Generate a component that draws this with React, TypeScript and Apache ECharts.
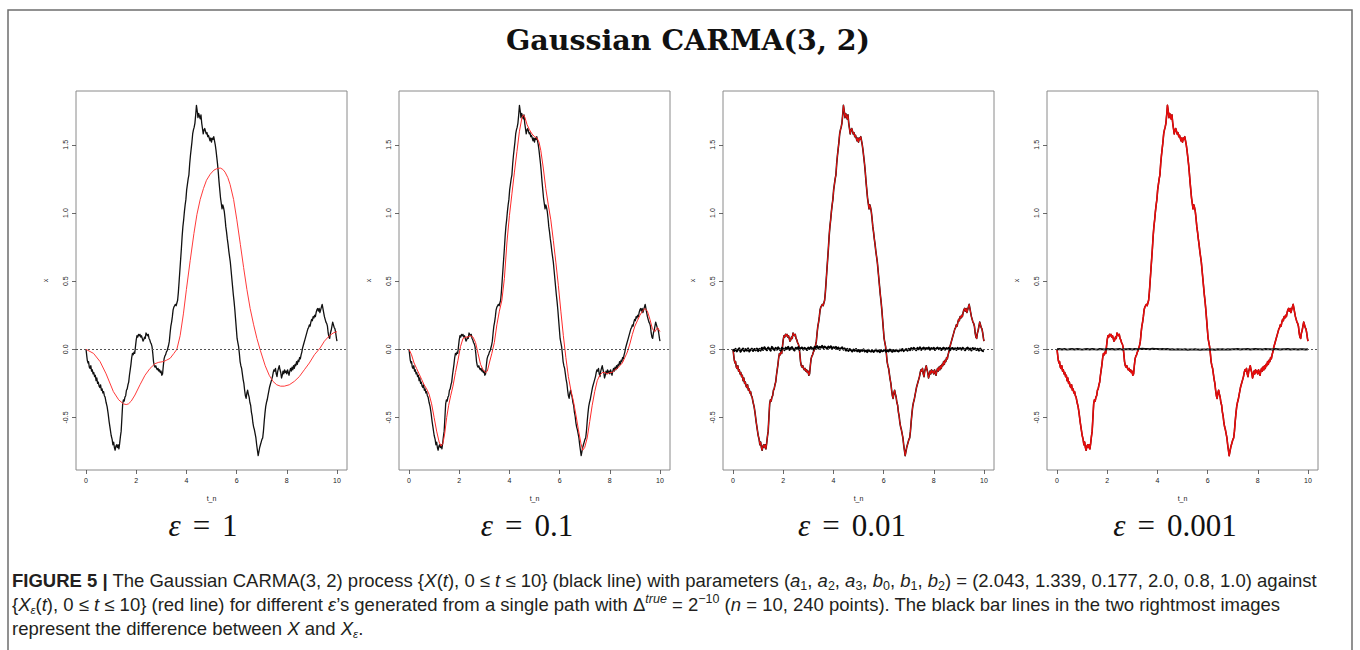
import React, { useEffect, useRef } from "react";
import * as echarts from "echarts";

// ---------- DATA ----------
// X(t): the Gaussian CARMA(3,2) path, [t, x]
const pathX: [number, number][] = [
  [0, 0], [0.03, -0.05], [0.05, -0.08], [0.08, -0.1], [0.1, -0.09], [0.13, -0.13], [0.16, -0.14], [0.19, -0.12],
  [0.22, -0.16], [0.25, -0.15], [0.28, -0.18], [0.31, -0.17], [0.34, -0.2], [0.37, -0.19], [0.4, -0.23], [0.43, -0.21],
  [0.46, -0.25], [0.49, -0.24], [0.52, -0.27], [0.55, -0.28], [0.58, -0.26], [0.61, -0.3], [0.64, -0.29], [0.67, -0.32],
  [0.7, -0.31], [0.73, -0.34], [0.76, -0.35], [0.8, -0.39], [0.84, -0.42], [0.88, -0.47], [0.92, -0.53], [0.96, -0.58],
  [1.0, -0.63], [1.04, -0.66], [1.07, -0.7], [1.1, -0.68], [1.13, -0.72], [1.16, -0.74], [1.19, -0.71], [1.22, -0.7],
  [1.25, -0.72], [1.28, -0.7], [1.31, -0.73], [1.34, -0.69], [1.37, -0.64], [1.4, -0.6], [1.43, -0.5], [1.46, -0.4],
  [1.49, -0.37], [1.52, -0.38], [1.55, -0.35], [1.58, -0.34], [1.61, -0.3], [1.64, -0.29], [1.67, -0.26], [1.7, -0.24],
  [1.73, -0.19], [1.76, -0.15], [1.79, -0.11], [1.82, -0.06], [1.85, -0.03], [1.88, -0.04], [1.91, -0.02], [1.94, -0.03],
  [1.97, 0.02], [2.0, 0.07], [2.03, 0.1], [2.06, 0.09], [2.09, 0.11], [2.12, 0.1], [2.15, 0.11], [2.18, 0.09],
  [2.21, 0.1], [2.24, 0.08], [2.27, 0.06], [2.3, 0.07], [2.33, 0.09], [2.36, 0.08], [2.39, 0.12], [2.42, 0.11],
  [2.45, 0.1], [2.48, 0.11], [2.51, 0.08], [2.54, 0.07], [2.57, 0.05], [2.6, 0.04], [2.63, 0.02], [2.66, -0.03],
  [2.69, -0.09], [2.72, -0.12], [2.75, -0.13], [2.78, -0.12], [2.81, -0.14], [2.84, -0.15], [2.87, -0.14], [2.9, -0.16],
  [2.93, -0.15], [2.96, -0.17], [2.99, -0.16], [3.02, -0.19], [3.05, -0.18], [3.08, -0.12], [3.11, -0.07], [3.14, -0.05],
  [3.17, -0.04], [3.2, -0.02], [3.23, -0.01], [3.26, 0.01], [3.29, 0.03], [3.32, 0.06], [3.35, 0.12], [3.38, 0.17],
  [3.41, 0.2], [3.44, 0.24], [3.47, 0.29], [3.5, 0.31], [3.53, 0.32], [3.56, 0.33], [3.59, 0.32], [3.62, 0.34],
  [3.65, 0.36], [3.68, 0.42], [3.71, 0.5], [3.74, 0.58], [3.77, 0.66], [3.8, 0.74], [3.83, 0.83], [3.86, 0.9],
  [3.89, 0.95], [3.92, 1.01], [3.95, 1.06], [3.98, 1.1], [4.01, 1.17], [4.04, 1.21], [4.07, 1.25], [4.1, 1.28],
  [4.13, 1.36], [4.16, 1.42], [4.19, 1.47], [4.22, 1.52], [4.25, 1.58], [4.28, 1.61], [4.31, 1.63], [4.34, 1.66],
  [4.37, 1.72], [4.4, 1.79], [4.43, 1.75], [4.46, 1.7], [4.49, 1.73], [4.52, 1.71], [4.55, 1.69], [4.58, 1.72],
  [4.61, 1.66], [4.64, 1.62], [4.67, 1.58], [4.7, 1.61], [4.73, 1.62], [4.76, 1.6], [4.79, 1.58], [4.82, 1.59],
  [4.85, 1.56], [4.88, 1.57], [4.91, 1.55], [4.94, 1.53], [4.97, 1.55], [5.0, 1.52], [5.03, 1.55], [5.06, 1.54],
  [5.09, 1.56], [5.12, 1.53], [5.15, 1.5], [5.18, 1.46], [5.21, 1.41], [5.24, 1.36], [5.27, 1.3], [5.3, 1.23],
  [5.33, 1.17], [5.36, 1.11], [5.39, 1.07], [5.42, 1.03], [5.45, 1.06], [5.48, 1.04], [5.51, 1.01], [5.54, 0.96],
  [5.57, 0.9], [5.6, 0.86], [5.63, 0.81], [5.66, 0.77], [5.69, 0.72], [5.72, 0.68], [5.75, 0.64], [5.78, 0.58],
  [5.81, 0.52], [5.84, 0.46], [5.87, 0.4], [5.9, 0.35], [5.93, 0.29], [5.96, 0.22], [5.99, 0.15], [6.02, 0.08],
  [6.05, 0.05], [6.08, 0.02], [6.11, -0.03], [6.14, -0.09], [6.17, -0.12], [6.2, -0.14], [6.23, -0.18], [6.26, -0.22],
  [6.29, -0.25], [6.32, -0.3], [6.35, -0.34], [6.38, -0.36], [6.41, -0.32], [6.44, -0.3], [6.47, -0.33], [6.5, -0.35],
  [6.53, -0.39], [6.56, -0.41], [6.59, -0.46], [6.62, -0.49], [6.65, -0.54], [6.68, -0.57], [6.71, -0.59], [6.74, -0.62],
  [6.77, -0.65], [6.8, -0.7], [6.83, -0.74], [6.86, -0.78], [6.89, -0.75], [6.92, -0.72], [6.95, -0.7], [6.98, -0.68],
  [7.01, -0.66], [7.04, -0.65], [7.07, -0.6], [7.1, -0.53], [7.13, -0.47], [7.16, -0.42], [7.19, -0.39], [7.22, -0.37],
  [7.25, -0.34], [7.28, -0.31], [7.31, -0.28], [7.34, -0.26], [7.37, -0.24], [7.4, -0.22], [7.43, -0.2], [7.46, -0.17],
  [7.49, -0.15], [7.52, -0.16], [7.55, -0.14], [7.58, -0.18], [7.61, -0.2], [7.64, -0.16], [7.67, -0.14], [7.7, -0.12],
  [7.73, -0.15], [7.76, -0.17], [7.79, -0.21], [7.82, -0.19], [7.85, -0.16], [7.88, -0.18], [7.91, -0.15], [7.94, -0.17],
  [7.97, -0.16], [8.0, -0.18], [8.03, -0.15], [8.06, -0.17], [8.09, -0.19], [8.12, -0.16], [8.15, -0.14], [8.18, -0.16],
  [8.21, -0.13], [8.24, -0.15], [8.27, -0.12], [8.3, -0.14], [8.33, -0.11], [8.36, -0.12], [8.39, -0.09], [8.42, -0.11],
  [8.45, -0.08], [8.48, -0.09], [8.51, -0.06], [8.54, -0.07], [8.57, -0.04], [8.6, -0.02], [8.63, 0.01], [8.66, 0.03],
  [8.69, 0.05], [8.72, 0.07], [8.75, 0.09], [8.78, 0.11], [8.81, 0.13], [8.84, 0.15], [8.87, 0.16], [8.9, 0.18],
  [8.93, 0.17], [8.96, 0.2], [8.99, 0.22], [9.02, 0.21], [9.05, 0.24], [9.08, 0.23], [9.11, 0.25], [9.14, 0.24],
  [9.17, 0.27], [9.2, 0.29], [9.23, 0.3], [9.26, 0.28], [9.29, 0.3], [9.32, 0.27], [9.35, 0.29], [9.38, 0.31],
  [9.41, 0.33], [9.44, 0.3], [9.47, 0.27], [9.5, 0.24], [9.53, 0.22], [9.56, 0.2], [9.59, 0.19], [9.62, 0.17],
  [9.65, 0.12], [9.68, 0.09], [9.71, 0.08], [9.74, 0.12], [9.77, 0.14], [9.8, 0.17], [9.83, 0.2], [9.86, 0.18],
  [9.89, 0.16], [9.92, 0.15], [9.95, 0.12], [9.98, 0.08], [10.0, 0.06],
];

// X_eps(t) for eps = 1 (smooth red curve), [t, x]
const epsOne: [number, number][] = [
  [0, 0], [0.3, -0.03], [0.56, -0.09], [0.8, -0.18], [1.09, -0.31], [1.3, -0.37], [1.49, -0.4], [1.6, -0.405],
  [1.69, -0.4], [1.8, -0.38], [1.95, -0.335], [2.15, -0.26], [2.35, -0.19], [2.55, -0.14], [2.75, -0.105], [2.9, -0.095],
  [3.08, -0.09], [3.2, -0.08], [3.35, -0.066], [3.5, -0.03], [3.62, 0.0], [3.75, 0.1], [3.88, 0.26], [4.0, 0.44],
  [4.15, 0.65], [4.3, 0.85], [4.42, 0.99], [4.55, 1.1], [4.68, 1.18], [4.8, 1.24], [4.95, 1.285], [5.1, 1.315],
  [5.21, 1.325], [5.35, 1.33], [5.45, 1.32], [5.54, 1.3], [5.65, 1.26], [5.74, 1.21], [5.88, 1.1], [6.01, 0.95],
  [6.15, 0.77], [6.28, 0.6], [6.41, 0.44], [6.54, 0.3], [6.68, 0.18], [6.81, 0.08], [6.95, -0.01], [7.14, -0.12],
  [7.3, -0.19], [7.45, -0.235], [7.6, -0.26], [7.75, -0.27], [7.9, -0.27], [8.1, -0.26], [8.3, -0.235], [8.5, -0.2],
  [8.7, -0.15], [8.9, -0.1], [9.1, -0.04], [9.33, 0.01], [9.5, 0.06], [9.7, 0.1], [9.85, 0.12], [10.0, 0.13],
];

// X_eps(t) for eps = 0.1 (red curve, slightly smoothed), [t, x]
const epsTenth: [number, number][] = [
  [0, 0], [0.1, -0.04], [0.2, -0.1], [0.3, -0.14], [0.4, -0.18], [0.5, -0.22], [0.6, -0.26], [0.7, -0.29],
  [0.8, -0.33], [0.9, -0.4], [1.0, -0.5], [1.1, -0.6], [1.2, -0.68], [1.28, -0.71], [1.35, -0.69], [1.42, -0.62],
  [1.5, -0.5], [1.58, -0.41], [1.66, -0.34], [1.75, -0.27], [1.85, -0.17], [1.95, -0.08], [2.05, 0.02], [2.15, 0.08],
  [2.25, 0.09], [2.35, 0.09], [2.45, 0.1], [2.55, 0.09], [2.65, 0.05], [2.75, -0.03], [2.85, -0.11], [2.95, -0.15],
  [3.05, -0.17], [3.12, -0.16], [3.2, -0.1], [3.3, -0.03], [3.4, 0.05], [3.5, 0.18], [3.6, 0.28], [3.7, 0.36],
  [3.8, 0.52], [3.9, 0.78], [4.0, 0.98], [4.1, 1.14], [4.2, 1.3], [4.3, 1.45], [4.4, 1.6], [4.5, 1.7],
  [4.56, 1.72], [4.62, 1.7], [4.7, 1.65], [4.8, 1.61], [4.9, 1.58], [5.0, 1.56], [5.1, 1.55], [5.18, 1.52],
  [5.25, 1.46], [5.35, 1.33], [5.45, 1.18], [5.55, 1.06], [5.65, 0.95], [5.75, 0.8], [5.85, 0.64], [5.95, 0.47],
  [6.05, 0.28], [6.15, 0.1], [6.25, -0.06], [6.35, -0.2], [6.45, -0.3], [6.55, -0.38], [6.65, -0.48], [6.75, -0.59],
  [6.85, -0.69], [6.92, -0.74], [7.0, -0.72], [7.1, -0.65], [7.2, -0.53], [7.3, -0.41], [7.4, -0.31], [7.5, -0.23],
  [7.6, -0.19], [7.7, -0.17], [7.8, -0.17], [7.9, -0.18], [8.0, -0.17], [8.1, -0.17], [8.2, -0.15], [8.3, -0.14],
  [8.4, -0.12], [8.5, -0.1], [8.6, -0.06], [8.7, -0.02], [8.8, 0.04], [8.9, 0.11], [9.0, 0.17], [9.1, 0.21],
  [9.2, 0.25], [9.3, 0.28], [9.4, 0.3], [9.5, 0.28], [9.6, 0.22], [9.7, 0.15], [9.8, 0.13], [9.9, 0.16],
  [10.0, 0.13],
];

// X - X_eps for eps = 0.01, sampled every 0.05 from t = 0
const diffStep001 = 0.05;
const diff001: number[] = [
  0, -0.012, 0.004, -0.015, -0.002, 0.008, -0.018, -0.004, 0.006, -0.014, 0.002, -0.01, 0.007, -0.016, -0.003, 0.005,
  -0.012, 0.003, -0.008, 0.006, -0.013,
  0.004, -0.009, 0.012, -0.004, 0.016, 0.002, -0.007, 0.014, 0.003, -0.01, 0.018, 0.005, -0.006, 0.011, -0.002, 0.015,
  0.001, -0.009, 0.012, 0.004,
  -0.006, 0.013, 0.002, 0.019, -0.004, 0.01, 0.016, 0.001, -0.008, 0.012, 0.004, 0.017, -0.003, 0.009, 0.014, -0.002,
  0.011, 0.006, -0.005, 0.013,
  0.003, 0.016, 0.008, -0.002, 0.018, 0.011, 0.024, 0.006, 0.019, 0.012, 0.026, 0.009, 0.021, 0.014, 0.004, 0.02,
  0.011, 0.023, 0.007, 0.016,
  0.01, 0.018, 0.003, 0.014, -0.004, 0.008, 0.015, -0.002, 0.007, -0.009, 0.004, -0.012, 0.002, -0.006, -0.016, -0.001,
  -0.011, 0.003, -0.014, -0.005,
  -0.018, -0.006, -0.012, 0.001, -0.015, -0.008, -0.02, -0.004, -0.013, -0.017, -0.007, -0.019, -0.01, -0.002, -0.016, -0.009,
  -0.021, -0.006, -0.014, -0.011,
  -0.003, -0.017, -0.008, -0.015, -0.001, -0.012, -0.018, -0.006, -0.014, -0.004, -0.011, -0.016, -0.002, -0.009, 0.003, -0.013,
  -0.005, 0.002, -0.01, 0.004,
  -0.006, 0.009, -0.002, 0.012, 0.003, -0.007, 0.011, 0.001, 0.015, -0.004, 0.008, 0.013, -0.001, 0.01, 0.004, 0.014,
  -0.003, 0.009, 0.002, 0.012,
  -0.004, 0.008, 0.013, 0.001, 0.01, -0.005, 0.007, 0.012, -0.002, 0.009, 0.003, 0.011, -0.006, 0.006, 0.01, 0.0,
  0.008, -0.004, 0.011, 0.002,
  0.009, -0.003, 0.012, 0.004, -0.007, 0.008, 0.013, -0.002, 0.006, -0.008, 0.01, 0.001, 0.007, -0.005, 0.004, -0.009,
  0.006, -0.006, -0.012, -0.015,
];

// X - X_eps for eps = 0.001, sampled every 0.1 from t = 0
const diffStep0001 = 0.1;
const diff0001: number[] = [
  0, 0.002, -0.001, 0.002, -0.002, 0.001, 0.003, -0.001, 0.002, 0.0, -0.002, 0.001, 0.002, -0.001, 0.003, 0.0,
  -0.002, 0.002, 0.001, -0.001, 0.002, 0.0, 0.003, -0.001, 0.001, 0.002, -0.002, 0.001, 0.0, 0.002, -0.001, 0.003,
  0.001, 0.002, 0.004, 0.002, 0.003, 0.001, 0.004, 0.002, 0.003, 0.001, 0.002, 0.0, 0.002, -0.001, 0.001, -0.002,
  0.0, -0.001, -0.002, 0.0, -0.003, -0.001, -0.002, 0.001, -0.002, -0.003, -0.001, -0.002, 0.0, -0.002, -0.001, -0.003,
  0.0, -0.001, 0.001, -0.002, 0.0, -0.001, 0.001, 0.0, 0.002, -0.001, 0.001, 0.0, 0.002, -0.001, 0.001, 0.002,
  0.0, 0.001, -0.001, 0.002, 0.0, 0.001, -0.001, 0.002, 0.001, -0.001, 0.001, 0.0, 0.002, -0.001, 0.001, 0.0,
  -0.001, 0.001, 0.0, -0.001, 0.0,
];

const xTicks = [0, 2, 4, 6, 8, 10];
const yTicks = [-0.5, 0.0, 0.5, 1.0, 1.5];
const epsLabels = ["1", "0.1", "0.01", "0.001"];
const titleText = "Gaussian CARMA(3, 2)";

// ---------- LAYOUT ----------
const panelLeft = [76, 399, 723, 1047];
const panelTop = 91;
const panelW = 271;
const panelH = 379;
const epsCenters = [203, 527, 852, 1175];
const X_MIN = -0.4;
const X_MAX = 10.4;
const Y_MIN = -0.885;
const Y_MAX = 1.895;

const capFont = "'Liberation Sans', Arial, sans-serif";
const capColor = "#231f20";
const capSize = 18.5;
const capSmall = 12.5;

function stepSeries(vals: number[], step: number): [number, number][] {
  return vals.map((v, i) => [Math.round(i * step * 1000) / 1000, v]);
}

export default function App() {
  const ref = useRef<HTMLDivElement>(null);

  useEffect(() => {
    document.body.style.margin = "0";
    if (!ref.current) return;
    const chart = echarts.init(ref.current, null, { renderer: "svg" });

    const grids = panelLeft.map((l) => ({
      left: l,
      top: panelTop,
      width: panelW,
      height: panelH,
      show: true,
      borderColor: "#8a8a8a",
      borderWidth: 1,
      backgroundColor: "transparent",
    }));

    const xAxes = panelLeft.map((_, i) => ({
      gridIndex: i,
      type: "value",
      position: "bottom",
      min: X_MIN,
      max: X_MAX,
      axisLine: { show: false, onZero: false },
      splitLine: { show: false },
      axisTick: { show: true, inside: false, length: 4, customValues: xTicks, lineStyle: { color: "#444", width: 0.8 } },
      axisLabel: {
        customValues: xTicks,
        fontSize: 7,
        color: "#222",
        margin: 7,
        fontFamily: "'Liberation Sans', Arial, sans-serif",
        formatter: (v: number) => String(v),
      },
      name: "t_n",
      nameLocation: "middle",
      nameGap: 25,
      nameTextStyle: { fontSize: 7, color: "#222", fontFamily: "'Liberation Sans', Arial, sans-serif" },
    }));

    const yAxes = panelLeft.map((_, i) => ({
      gridIndex: i,
      type: "value",
      position: "left",
      min: Y_MIN,
      max: Y_MAX,
      axisLine: { show: false, onZero: false },
      splitLine: { show: false },
      axisTick: { show: true, inside: false, length: 4, customValues: yTicks, lineStyle: { color: "#444", width: 0.8 } },
      axisLabel: {
        customValues: yTicks,
        rotate: 90,
        fontSize: 7,
        color: "#222",
        margin: 7,
        fontFamily: "'Liberation Sans', Arial, sans-serif",
        formatter: (v: number) => v.toFixed(1),
      },
      name: "x",
      nameLocation: "middle",
      nameGap: 27,
      nameRotate: 90,
      nameTextStyle: { fontSize: 7, color: "#222", fontFamily: "'Liberation Sans', Arial, sans-serif" },
    }));

    const zeroLine = {
      silent: true,
      symbol: "none",
      label: { show: false },
      lineStyle: { type: [2, 2], color: "#555", width: 1 },
      data: [{ yAxis: 0 }],
    };

    const line = (i: number, data: [number, number][], color: string, width: number, z: number, withZero = false) => ({
      type: "line",
      xAxisIndex: i,
      yAxisIndex: i,
      data,
      showSymbol: false,
      symbol: "none",
      silent: true,
      z,
      lineStyle: { color, width, join: "round" },
      ...(withZero ? { markLine: zeroLine } : {}),
    });

    const series = [
      line(0, pathX, "#111", 1.3, 2, true),
      line(0, epsOne, "#ff3b3b", 1, 3),
      line(1, pathX, "#111", 1.3, 2, true),
      line(1, epsTenth, "#ff2a2a", 1, 3),
      line(2, pathX, "#111", 1.6, 2, true),
      line(2, pathX, "#e0100f", 1.1, 3),
      line(2, stepSeries(diff001, diffStep001), "#000", 2, 4),
      line(3, pathX, "#7a0000", 1.6, 2, true),
      line(3, pathX, "#e80c0c", 1.4, 3),
      line(3, stepSeries(diff0001, diffStep0001), "#111", 2, 4),
    ];

    const capRich = {
      b: { fontWeight: "bold", fontSize: capSize, fontFamily: capFont, fill: capColor, lineHeight: 24 },
      i: { fontStyle: "italic", fontSize: capSize, fontFamily: capFont, fill: capColor, lineHeight: 24 },
      sub: { fontSize: capSmall, fontFamily: capFont, fill: capColor, verticalAlign: "bottom", lineHeight: 16 },
      isub: { fontSize: capSmall - 1, fontStyle: "italic", fontFamily: capFont, fill: capColor, verticalAlign: "bottom", lineHeight: 16 },
      sup: { fontSize: capSmall, fontFamily: capFont, fill: capColor, verticalAlign: "top", lineHeight: 15 },
      isup: { fontSize: capSmall, fontStyle: "italic", fontFamily: capFont, fill: capColor, verticalAlign: "top", lineHeight: 15 },
    };

    const capLines = [
      "{b|FIGURE 5 |} The Gaussian CARMA(3, 2) process {{i|X}({i|t}), 0 ≤ {i|t} ≤ 10} (black line) with parameters ({i|a}{sub|1}, {i|a}{sub|2}, {i|a}{sub|3}, {i|b}{sub|0}, {i|b}{sub|1}, {i|b}{sub|2}) = (2.043, 1.339, 0.177, 2.0, 0.8, 1.0) against",
      "{{i|X}{isub|ε}({i|t}), 0 ≤ {i|t} ≤ 10} (red line) for different {i|ε}’s generated from a single path with Δ{isup|true} = 2{sup|−10} ({i|n} = 10, 240 points). The black bar lines in the two rightmost images",
      "represent the difference between {i|X} and {i|X}{isub|ε}.",
    ];
    const capY = [580, 604, 628];

    const graphic: any[] = [
      {
        type: "rect",
        silent: true,
        shape: { x: 8, y: 10, width: 1344, height: 700 },
        style: { fill: "none", stroke: "#6e6e6e", lineWidth: 1.5 },
        z: 0,
      },
      {
        type: "text",
        silent: true,
        x: 688,
        y: 40,
        style: {
          text: titleText,
          fontFamily: "'DejaVu Serif', serif",
          fontWeight: "bold",
          fontSize: 28.5,
          fill: "#111",
          align: "center",
          verticalAlign: "middle",
        },
      },
      ...epsLabels.map((lab, k) => ({
        type: "text",
        silent: true,
        x: epsCenters[k],
        y: 525,
        style: {
          text: `{e|ε}{q|=}{n|${lab}}`,
          align: "center",
          verticalAlign: "middle",
          fontFamily: "'Liberation Serif', serif",
          fontSize: 31,
          fill: "#111",
          rich: {
            e: { fontFamily: "'Liberation Serif', serif", fontStyle: "italic", fontSize: 31, fill: "#111" },
            q: { fontFamily: "'Liberation Serif', serif", fontSize: 31, fill: "#111", padding: [0, 12, 0, 12] },
            n: { fontFamily: "'Liberation Serif', serif", fontSize: 31, fill: "#111" },
          },
        },
      })),
      ...capLines.map((t, k) => ({
        type: "text",
        silent: true,
        x: 12,
        y: capY[k],
        style: {
          text: t,
          align: "left",
          verticalAlign: "middle",
          fontFamily: capFont,
          fontSize: capSize,
          lineHeight: 24,
          fill: capColor,
          rich: capRich,
        },
      })),
    ];

    chart.setOption({
      animation: false,
      backgroundColor: "#ffffff",
      grid: grids,
      xAxis: xAxes,
      yAxis: yAxes,
      series,
      graphic,
    } as any);

    return () => {
      chart.dispose();
    };
  }, []);

  return <div ref={ref} style={{ width: 1360, height: 650 }} />;
}
